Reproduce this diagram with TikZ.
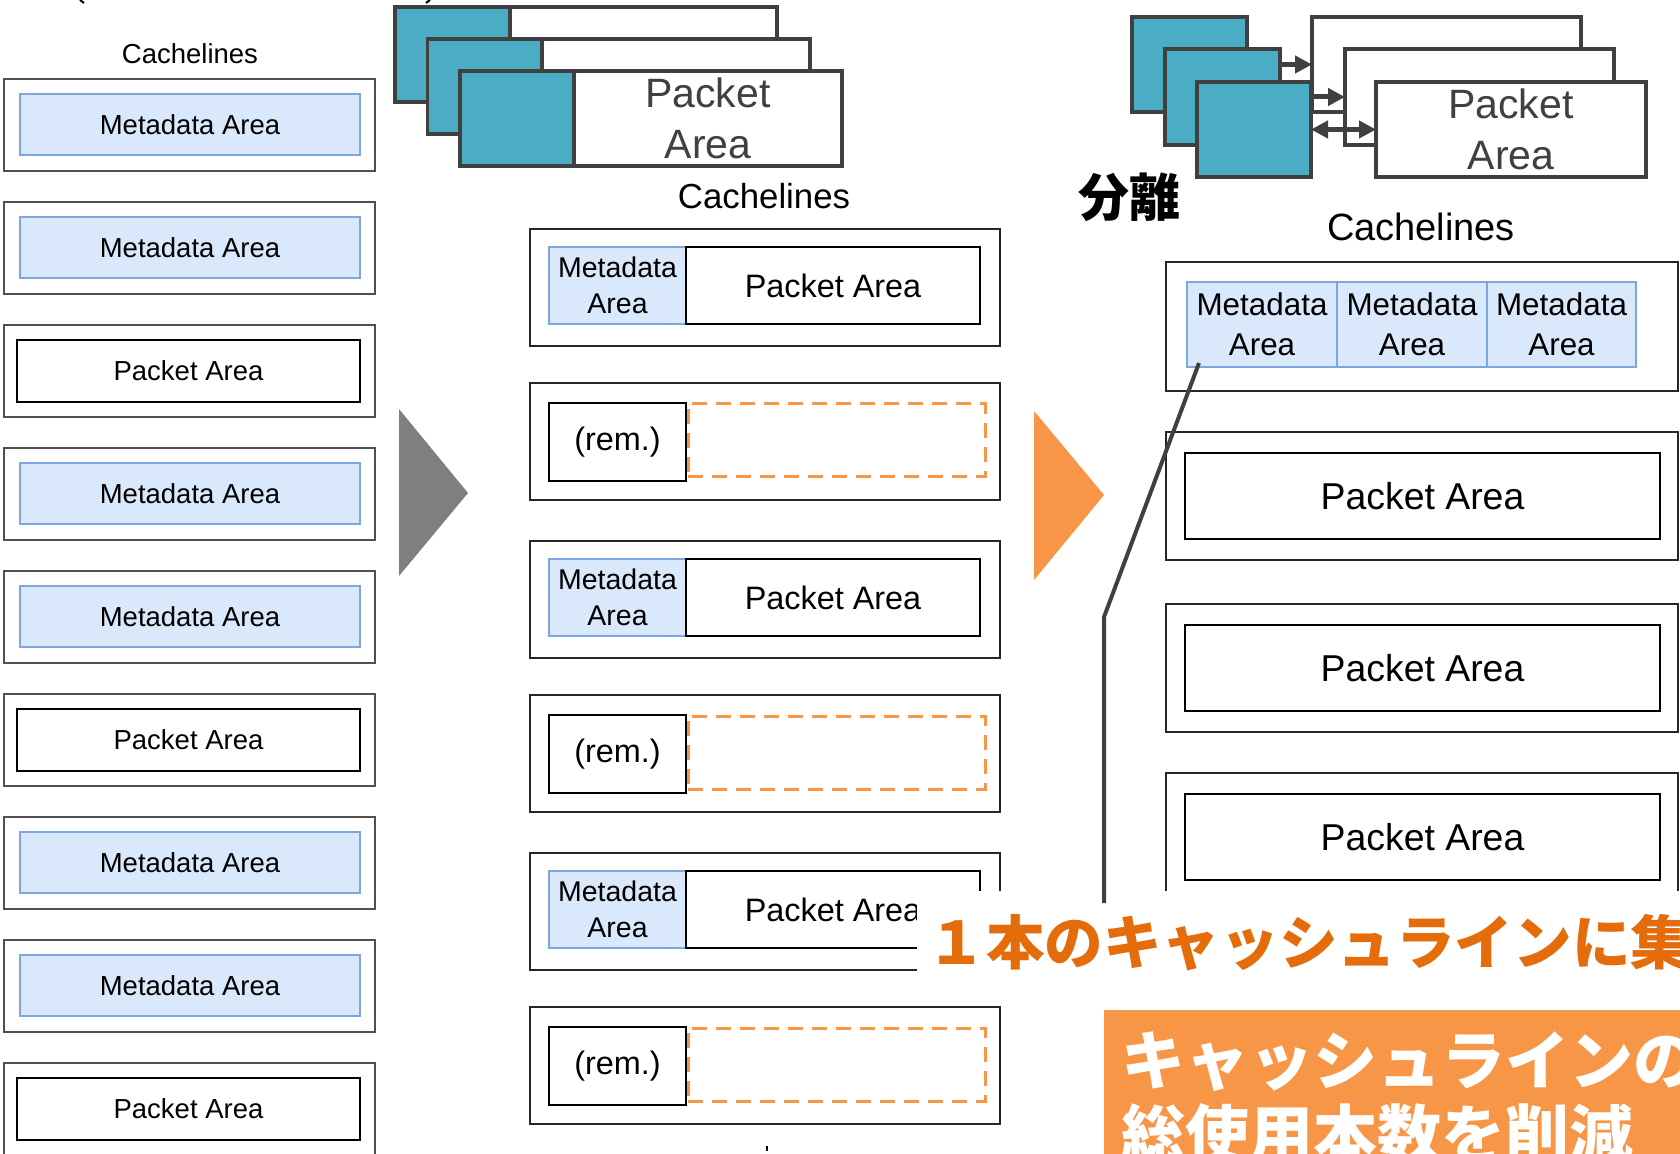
\documentclass[tikz,border=0pt]{standalone}
\usepackage{fontspec}
\setmainfont{Liberation Sans}
\newfontfamily\cjkfont{Noto Sans CJK JP}
\usetikzlibrary{fit,arrows.meta}
\newcommand{\setfs}[2]{\fontsize{#1}{#2}\selectfont}
\definecolor{metafill}{HTML}{DAE8FC}
\definecolor{metaedge}{HTML}{7EA6E0}
\definecolor{tealc}{HTML}{4BACC6}
\definecolor{dgray}{HTML}{404040}
\definecolor{boxgray}{HTML}{505050}
\definecolor{orangeL}{HTML}{F79646}
\definecolor{orangeT}{HTML}{E46C0A}
\definecolor{arrowgray}{HTML}{7F7F7F}
\begin{document}
\begin{tikzpicture}[x=0.5pt,y=-0.5pt,
  rbox/.style={rectangle, inner sep=0pt, outer sep=0pt, fit={#1}},
  outerL/.style={draw=boxgray, line width=1pt},
  metaL/.style={draw=metaedge, fill=metafill, line width=0.8pt},
  pktL/.style={draw=black, line width=0.8pt, fill=white},
  outerM/.style={draw=black!85, line width=1pt},
  metaB/.style={draw=metaedge, fill=metafill, line width=0.8pt},
  pktB/.style={draw=black, fill=white, line width=0.9pt},
  dashO/.style={draw=orangeL, line width=1.5pt, dash pattern=on 7.5pt off 4.5pt},
  tealbox/.style={draw=dgray, fill=tealc, line width=1.75pt},
  whitebox/.style={draw=dgray, fill=white, line width=1.75pt},
  txt/.style={text=black, inner sep=0pt, align=center},
  tL/.style={txt, font=\setfs{13.75}{16}},
  tMm/.style={txt, font=\setfs{14.25}{18}},
  tMp/.style={txt, font=\setfs{16.2}{19}},
  tRm/.style={txt, font=\setfs{15.7}{20}},
  tRp/.style={txt, font=\setfs{18.7}{22}},
  tBig/.style={txt, text=dgray, font=\setfs{20.5}{25.5}},
  arr/.style={draw=dgray, line width=2.5pt, -{Triangle[length=8.5pt,width=8.5pt]}},
  darr/.style={draw=dgray, line width=2.5pt, {Triangle[length=8.5pt,width=8.5pt]}-{Triangle[length=8.5pt,width=8.5pt]}},
  link/.style={draw=dgray, line width=2pt}
]
\useasboundingbox (0,0) rectangle (1680,1154);
\clip (0,0) rectangle (1680,1154);
\fill[white] (0,0) rectangle (1680,1154);

% cut-off glyph remnants at the edges
\draw[line width=1pt] (80,0) -- (84,3);
\draw[line width=1pt] (430,0) -- (426,3);
\fill (766,1146) rectangle (768,1151);

% ---------- left column ----------
\node[tL] (cacheL) at (190,54) {Cachelines};
\foreach \t [count=\i] in {79,202,325,448,571,694,817,940,1063}
  \node[outerL, rbox={(4,\t)(375,\t+92)}] (Lo\i) {};
\foreach \t/\i in {79/1,202/2,448/4,571/5,817/7,940/8} {
  \node[metaL, rbox={(20,\t+15)(360,\t+76)}] (Lm\i) {};
  \node[tL] (Lmt\i) at (Lm\i.center) {Metadata Area};
}
\foreach \t/\i in {325/3,694/6,1063/9} {
  \node[pktL, rbox={(17,\t+15)(360,\t+77)}] (Lp\i) {};
  \node[tL] (Lpt\i) at (Lp\i.center) {Packet Area};
}

% gray arrow
\fill[arrowgray] (399,409) -- (468,493) -- (399,576) -- cycle;

% ---------- middle column ----------
\node[tealbox, rbox={(395,7)(510,102)}] (MTb) {};
\node[whitebox, rbox={(510,7)(777,102)}] (MWb) {};
\node[tealbox, rbox={(427.5,39)(542,134)}] (MTm) {};
\node[whitebox, rbox={(542,39)(810,134)}] (MWm) {};
\node[tealbox, rbox={(460,71)(574,166)}] (MTf) {};
\node[whitebox, rbox={(574,71)(842,166)}] (MWf) {};
\node[tBig] (MWft) at (MWf.center) {Packet\\Area};

\node[txt, font=\setfs{17.4}{20}] (cacheM) at (764,196) {Cachelines};
\foreach \t/\i in {229/1,541/3,853/5} {
  \node[outerM, rbox={(530,\t)(1000,\t+117)}] (Mo\i) {};
  \node[metaB, rbox={(549,\t+18)(686,\t+95)}] (Mm\i) {};
  \node[pktB, rbox={(686,\t+18)(980,\t+95)}] (Mp\i) {};
  \node[tMm] (Mmt\i) at (Mm\i.center) {Metadata\\Area};
  \node[tMp] (Mpt\i) at (Mp\i.center) {Packet Area};
}
\foreach \t/\i in {383/2,695/4,1007/6} {
  \node[outerM, rbox={(530,\t)(1000,\t+117)}] (Mo\i) {};
  \node[dashO, rbox={(688,\t+21)(985,\t+94)}] (Md\i) {};
  \node[pktB, rbox={(549,\t+20)(686,\t+98)}] (Mr\i) {};
  \node[tMp] (Mrt\i) at (Mr\i.center) {(rem.)};
}

% orange arrow
\fill[orangeL] (1034,411) -- (1104,495) -- (1034,580) -- cycle;

% ---------- right column ----------
\node[txt, font=\cjkfont\bfseries\setfs{25.5}{28}] (bunri) at (1129,197) {分離};

\node[tealbox, rbox={(1132,17)(1247,112)}] (RTb) {};
\node[whitebox, rbox={(1312,17)(1581,112)}] (RWb) {};
\draw[arr] (RTb.east) -- (RWb.west);
\node[tealbox, rbox={(1165,49)(1280,145)}] (RTm) {};
\node[whitebox, rbox={(1345,49)(1614,145)}] (RWm) {};
\draw[arr] (RTm.east) -- (RWm.west);
\node[tealbox, rbox={(1197,82)(1311,177)}] (RTf) {};
\node[whitebox, rbox={(1376,82)(1646,177)}] (RWf) {};
\node[tBig] (RWft) at (RWf.center) {Packet\\Area};
\draw[darr] (RTf.east) -- (RWf.west);

\node[txt, font=\setfs{19}{22}] (cacheR) at (1421,227) {Cachelines};
\node[outerM, rbox={(1166,262)(1678,391)}] (Ro1) {};
\node[metaB, rbox={(1187,282)(1337,367)}] (Rm1) {};
\node[metaB, rbox={(1337,282)(1487,367)}] (Rm2) {};
\node[metaB, rbox={(1487,282)(1636,367)}] (Rm3) {};
\foreach \j in {1,2,3}
  \node[tRm] (Rmt\j) at (Rm\j.center) {Metadata\\Area};
\foreach \t/\b/\i in {432/560/2,604/732/3,773/960/4} {
  \node[outerM, rbox={(1166,\t)(1678,\b)}] (Ro\i) {};
  \node[pktB, rbox={(1185,\t+21)(1660,\t+107)}] (Rp\i) {};
  \node[tRp] (Rpt\i) at (Rp\i.center) {Packet Area};
}

% ---------- callouts ----------
\fill[white] (917,891) rectangle (1680,990);
\coordinate (kink) at (1104,617);
\coordinate (lineend) at (1104,903);
\draw[link] ([shift={(12,-4)}]Rm1.south west) -- (kink) -- (lineend);

\node[anchor=base west, inner sep=0pt, text=orangeT, font=\cjkfont\bfseries\setfs{29.3}{32}] (gather) at (927,964) {１本のキャッシュラインに集};

\node[fill=orangeL, rbox={(1104,1010)(1690,1170)}] (obox) {};
\node[anchor=base west, inner sep=0pt, text=white, font=\cjkfont\bfseries\setfs{32}{37}] (res1) at (1121,1084) {キャッシュラインの};
\node[anchor=base west, inner sep=0pt, text=white, font=\cjkfont\bfseries\setfs{32}{37}] (res2) at (1121,1158) {総使用本数を削減};
\end{tikzpicture}
\end{document}
